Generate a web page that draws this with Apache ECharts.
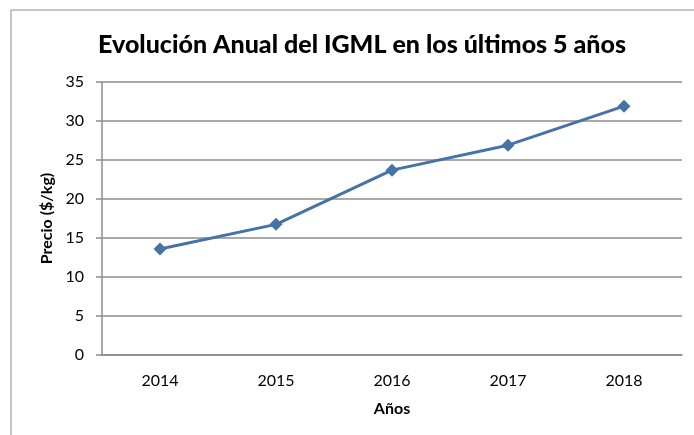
<!DOCTYPE html>
<html>
<head>
<meta charset="utf-8">
<script src="https://cdn.jsdelivr.net/npm/echarts@6/dist/echarts.min.js"></script>
<style>
  html, body { margin: 0; padding: 0; background: #fff; }
  #main { width: 694px; height: 435px; }
</style>
</head>
<body>
<div id="main"></div>
<script>
const years = ['2014', '2015', '2016', '2017', '2018']
const precio = [13.6, 16.75, 23.7, 26.9, 31.9]
const yTicks = { min: 0, max: 35, interval: 5 }

const font = 'Lato, "Open Sans", sans-serif'

let chart = echarts.init(document.getElementById('main'))
chart.setOption({
    animation: false,
    title: {
        text: 'Evolución Anual del IGML en los últimos 5 años',
        left: 93,
        top: 27,
        textStyle: {
            fontFamily: font,
            fontSize: 25,
            fontWeight: 900,
            color: '#000'
        }
    },
    graphic: [{
        type: 'rect',
        shape: { x: 11, y: 10, width: 720, height: 460 },
        style: { fill: 'none', stroke: '#8c8c8c', lineWidth: 1 },
        silent: true
    }],
    grid: {
        left: 102,
        right: 12,
        top: 82,
        bottom: 80
    },
    xAxis: {
        type: 'category',
        data: years,
        name: 'Años',
        nameLocation: 'middle',
        nameGap: 46,
        nameTextStyle: {
            fontFamily: font,
            fontSize: 16,
            fontWeight: 'bold',
            color: '#000'
        },
        axisTick: { show: false },
        axisLine: { lineStyle: { color: '#8c8c8c', width: 1.5 } },
        axisLabel: {
            fontFamily: font,
            fontSize: 16,
            color: '#000',
            margin: 18
        }
    },
    yAxis: {
        type: 'value',
        min: yTicks.min,
        max: yTicks.max,
        interval: yTicks.interval,
        name: 'Precio ($/kg)',
        nameLocation: 'middle',
        nameGap: 46,
        nameTextStyle: {
            fontFamily: font,
            fontSize: 16,
            fontWeight: 'bold',
            color: '#000'
        },
        axisLine: { show: true, lineStyle: { color: '#8c8c8c', width: 1.5 } },
        axisTick: { show: true, length: 6, lineStyle: { color: '#8c8c8c', width: 1.5 } },
        axisLabel: {
            fontFamily: font,
            fontSize: 16,
            color: '#000',
            margin: 18
        },
        splitLine: {
            lineStyle: { color: '#8c8c8c', width: 1.5 }
        }
    },
    series: [{
        name: 'Precio',
        type: 'line',
        data: precio,
        symbol: 'diamond',
        symbolSize: 13,
        itemStyle: { color: '#4572a7' },
        lineStyle: { color: '#4572a7', width: 3 }
    }]
})
</script>
</body>
</html>
